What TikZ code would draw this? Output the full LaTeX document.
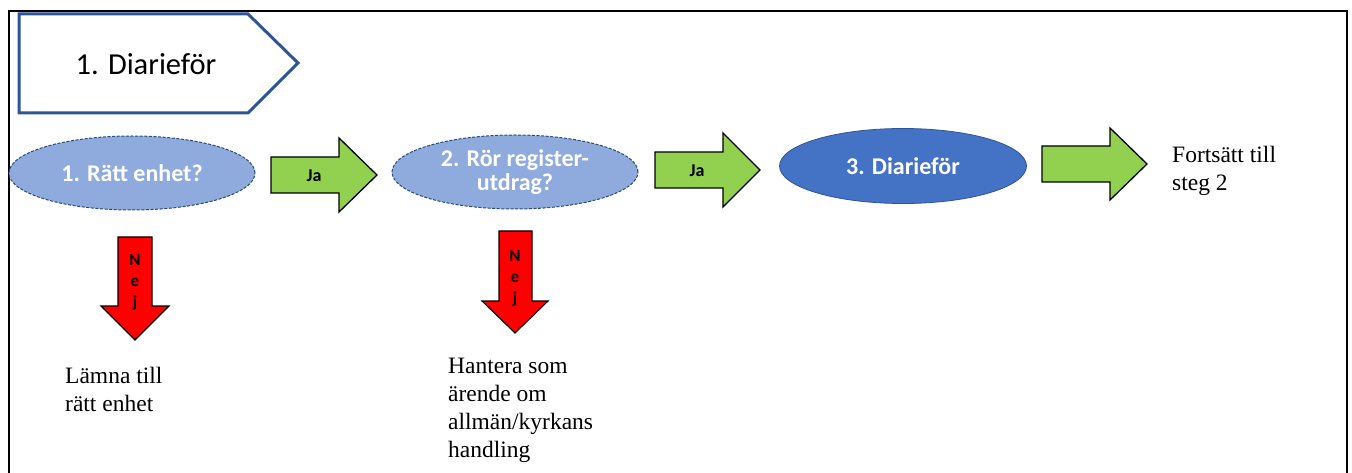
\documentclass[tikz,border=0pt]{standalone}
\usepackage{fontspec}
\setmainfont{Liberation Serif}
\newfontfamily\calibri{Carlito}
\usetikzlibrary{shapes.geometric}

\definecolor{frameblue}{HTML}{2F5597}
\definecolor{lightblue}{HTML}{8FAADC}
\definecolor{midblue}{HTML}{4472C4}
\definecolor{arrowgreen}{HTML}{92D050}
\definecolor{arrowred}{HTML}{FF0000}

% right-pointing block arrow: body left, body top, body bottom, head base, head top, head bottom, tip
\newcommand\rightblockarrow[7]{%
  \draw[garrow] (#1,#2) -- (#4,#2) -- (#4,#5) -- (#7,{(#5+#6)/2}) -- (#4,#6) -- (#4,#3) -- (#1,#3) -- cycle;}
% down-pointing block arrow: body left, body right, body top, head base, head left, head right, tip
\newcommand\downblockarrow[7]{%
  \draw[rarrow] (#1,#3) -- (#2,#3) -- (#2,#4) -- (#6,#4) -- ({(#5+#6)/2},#7) -- (#5,#4) -- (#1,#4) -- cycle;}

\begin{document}
\begin{tikzpicture}[x=1pt,y=-1pt,
  garrow/.style={fill=arrowgreen, draw=black, line width=1.3pt, line join=miter},
  rarrow/.style={fill=arrowred, draw=black, line width=1.1pt, line join=miter},
  question/.style={ellipse, draw=frameblue!85!black, line width=1pt, dash pattern=on 3pt off 1.6pt,
    fill=lightblue, minimum width=246pt, minimum height=74pt, inner xsep=-20pt, inner ysep=-6pt, text=white,
    font=\calibri\bfseries\fontsize{24}{24}\selectfont, align=center},
  action/.style={ellipse, draw=frameblue, line width=0.8pt, fill=midblue,
    minimum width=247pt, minimum height=75pt, inner sep=0pt, text=white,
    font=\calibri\bfseries\fontsize{24}{24}\selectfont, align=center},
  yeslabel/.style={font=\calibri\bfseries\fontsize{18}{20}\selectfont, inner sep=0pt},
  nolabel/.style={font=\calibri\bfseries\fontsize{17}{21}\selectfont, inner sep=0pt, align=center},
  note/.style={font=\fontsize{23.5}{28}\selectfont, inner sep=0pt, align=left, anchor=north west},
]
\useasboundingbox (0,0) rectangle (1352,473);
\fill[white] (0,0) rectangle (1352,473);

% outer frame (open at the bottom)
\draw[line width=1.6pt, black] (9,473) -- (9,11) -- (1347,11) -- (1347,473);

% step banner
\draw[frameblue, line width=3pt, fill=white, line join=miter]
  (19,14) -- (248,14) -- (298,63) -- (248,113) -- (19,113) -- cycle;
\node[font=\calibri\fontsize{30.5}{34}\selectfont, inner sep=0pt] (title) at (146,64) {1. Diarieför};

% decision and action ellipses
\node[question] (q1) at (132,173) {1. Rätt enhet?};
\node[question] (q2) at (515,172) {2. Rör register-\\utdrag?};
\node[action]   (d3) at (903,166) {3. Diarieför};

% "Ja" arrows
\rightblockarrow{271}{157}{193}{339}{138}{212}{377}
\node[yeslabel] (ja1) at (314,176) {Ja};
\rightblockarrow{655}{152}{188}{723}{133}{207}{760}
\node[yeslabel] (ja2) at (697,171) {Ja};
\rightblockarrow{1042}{146}{182}{1110}{128}{200}{1147}

% "Nej" arrows
\downblockarrow{118}{152}{237}{306}{101}{169}{340}
\node[nolabel] (nej1) at (135,282) {N\\e\\j};
\downblockarrow{499}{532}{231}{301}{482}{548}{333}
\node[nolabel] (nej2) at (515,278) {N\\e\\j};

% outcome notes
\node[note] (leave) at (65,363.4) {\strut Lämna till\\rätt enhet};
\node[note] (handle) at (448,353.4) {\strut Hantera som\\ärende om\\allmän/kyrkans\\handling};
\node[note] (next) at (1172,142.4) {\strut Fortsätt till\\steg 2};
\end{tikzpicture}
\end{document}
